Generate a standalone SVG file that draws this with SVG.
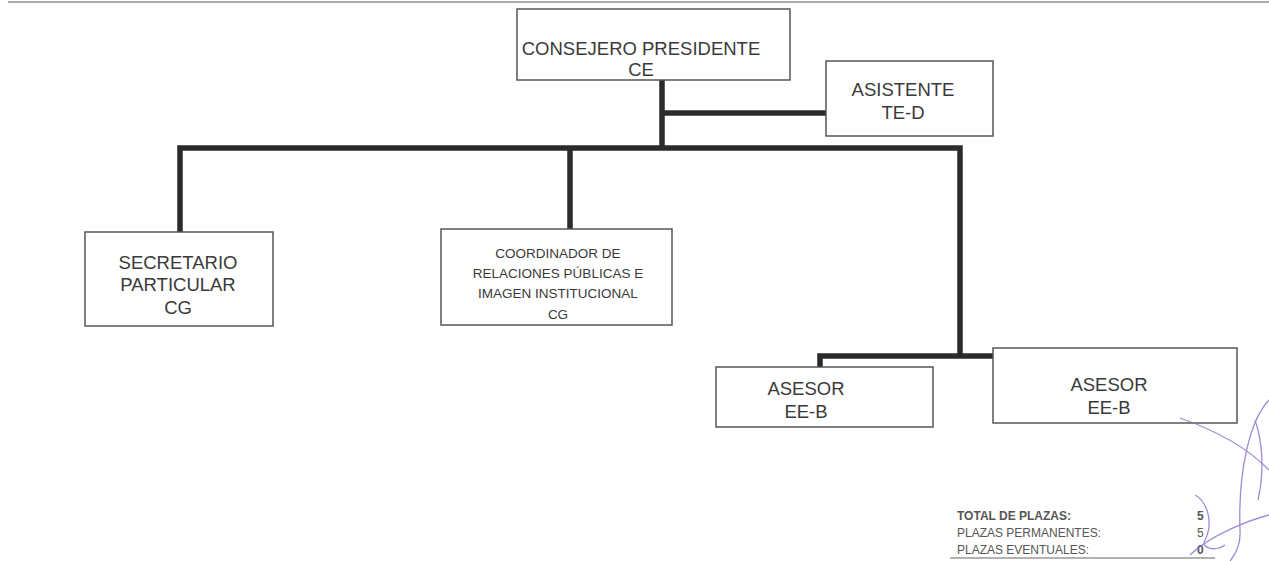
<svg xmlns="http://www.w3.org/2000/svg" width="1269" height="561" viewBox="0 0 1269 561">
<style>
.box{fill:#fff;stroke:#555;stroke-width:1.5}
.t{font-family:"Liberation Sans",Arial,sans-serif;fill:#3a3a3a;text-anchor:middle;font-size:18.5px}
.s{font-size:13.5px}
.c{fill:none;stroke:#2b2b2b;stroke-width:5.5;stroke-linejoin:miter}
.tot{font-family:"Liberation Sans",Arial,sans-serif;fill:#555;font-size:12px}
</style>
<rect width="1269" height="561" fill="#fff"/>
<line x1="8" y1="2" x2="1269" y2="2" stroke="#aaa" stroke-width="2"/>
<g id="connectors">
<path class="c" d="M662 80 V148"/>
<path class="c" d="M662 113 H826"/>
<path class="c" d="M180 232 V148 H960 V356"/>
<path class="c" d="M570 148 V230"/>
<path class="c" d="M820 367 V356 H1102 V348"/>
</g>
<g id="consejero">
<rect class="box" x="517" y="9" width="273" height="71"/>
<text class="t" x="641" y="55">CONSEJERO PRESIDENTE</text>
<text class="t" x="641" y="76">CE</text>
</g>
<g id="asistente">
<rect class="box" x="826" y="61" width="167" height="75"/>
<text class="t" x="903" y="96">ASISTENTE</text>
<text class="t" x="903" y="119">TE-D</text>
</g>
<g id="secretario">
<rect class="box" x="85" y="232" width="188" height="94"/>
<text class="t" x="178" y="269">SECRETARIO</text>
<text class="t" x="178" y="291">PARTICULAR</text>
<text class="t" x="178" y="314">CG</text>
</g>
<g id="coordinador">
<rect class="box" x="441" y="229" width="231" height="96"/>
<text class="t s" x="558" y="258">COORDINADOR DE</text>
<text class="t s" x="558" y="278">RELACIONES PÚBLICAS E</text>
<text class="t s" x="558" y="298">IMAGEN INSTITUCIONAL</text>
<text class="t s" x="558" y="319">CG</text>
</g>
<g id="asesor1">
<rect class="box" x="716" y="367" width="217" height="60"/>
<text class="t" x="806" y="395">ASESOR</text>
<text class="t" x="806" y="418">EE-B</text>
</g>
<g id="asesor2">
<rect class="box" x="993" y="348" width="244" height="75"/>
<text class="t" x="1109" y="391">ASESOR</text>
<text class="t" x="1109" y="414">EE-B</text>
</g>
<g id="totales">
<text class="tot" x="957" y="520" font-weight="bold" fill="#222">TOTAL DE PLAZAS:</text>
<text class="tot" x="957" y="537">PLAZAS PERMANENTES:</text>
<text class="tot" x="957" y="554">PLAZAS EVENTUALES:</text>
<text class="tot" x="1197" y="520" font-weight="bold" fill="#222">5</text>
<text class="tot" x="1197" y="537">5</text>
<text class="tot" x="1197" y="554" font-weight="bold" fill="#222">0</text>
<line x1="950" y1="558" x2="1215" y2="558" stroke="#999" stroke-width="1.5"/>
</g>
<g id="firma" fill="none" stroke="#8a6fd0" stroke-width="1.3" opacity="0.8">
<path d="M1180 418 C1200 425 1240 440 1269 470"/>
<path d="M1269 400 C1250 420 1238 470 1240 530 C1241 545 1235 555 1230 561"/>
<path d="M1195 495 C1205 500 1215 520 1205 540 C1200 548 1215 552 1225 545"/>
<path d="M1190 555 C1210 535 1250 520 1269 515"/>
<path d="M1255 420 C1262 440 1265 470 1258 500"/>
</g>
</svg>
